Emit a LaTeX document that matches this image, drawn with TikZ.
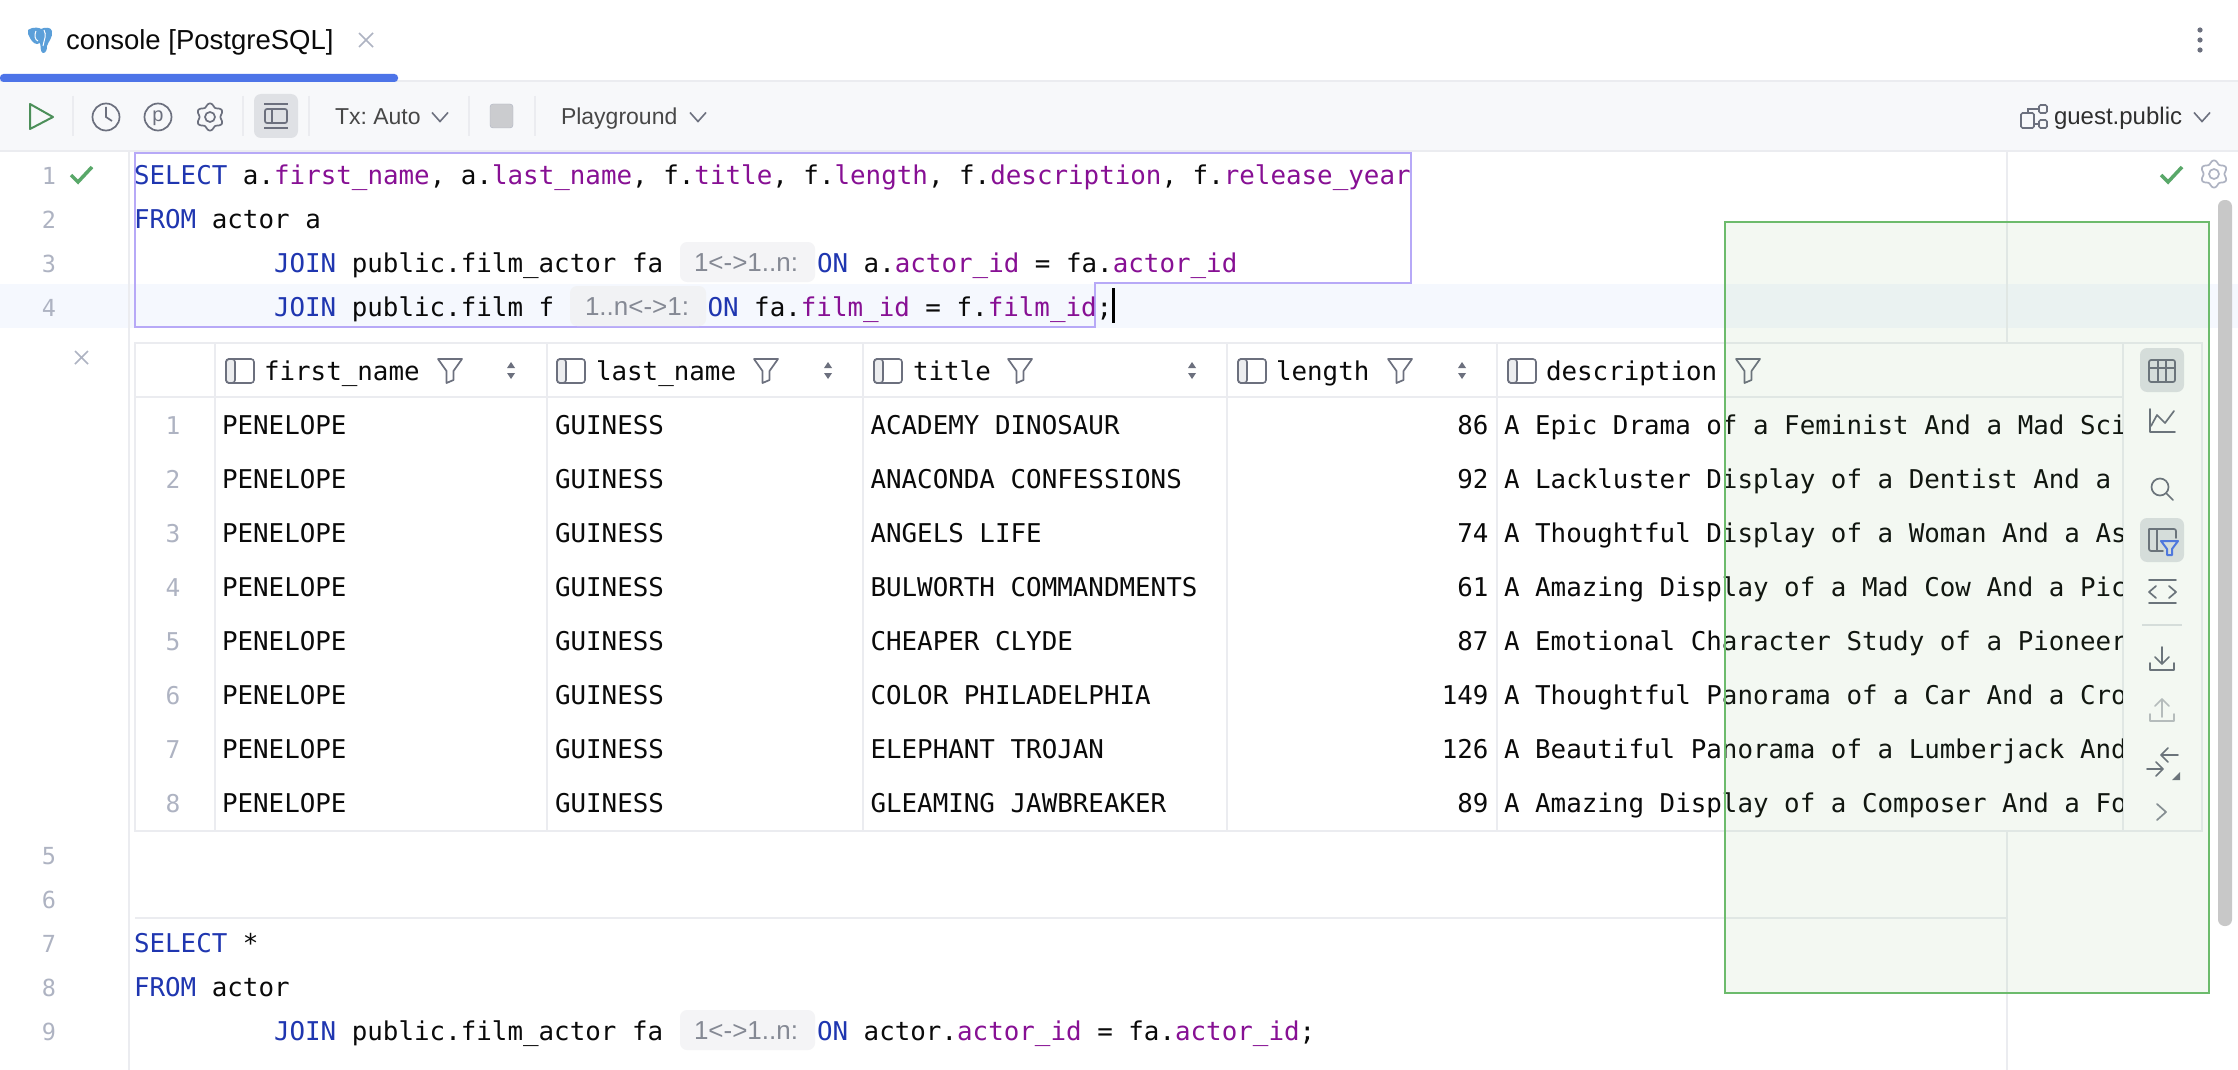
\documentclass[tikz,border=0pt]{standalone}
\usepackage{fontspec}
\setmainfont{Liberation Sans}
\newfontfamily\cmono{DejaVu Sans Mono}
\usetikzlibrary{calc}
\definecolor{kwblue}{HTML}{1F36B0}
\definecolor{fldpurple}{HTML}{871094}
\definecolor{txtblack}{HTML}{0A0A0A}
\definecolor{linegray}{HTML}{EBECF0}
\definecolor{numgray}{HTML}{AEB3C2}
\definecolor{icongray}{HTML}{6C707E}
\definecolor{barbg}{HTML}{F7F8FA}
\definecolor{rowhl}{HTML}{F5F8FE}
\definecolor{okgreen}{HTML}{59A869}
\definecolor{selpurple}{HTML}{B7A9F7}
\definecolor{activebox}{HTML}{DFE1E5}
\definecolor{stopfill}{HTML}{CBCCCF}
\definecolor{hintbg}{HTML}{F4F4F6}
\definecolor{hinttxt}{HTML}{858994}
\definecolor{tabblue}{HTML}{4D74E8}
\definecolor{pgblue}{HTML}{5B9FD9}
\definecolor{ovfill}{HTML}{69AF5F}
\definecolor{ovline}{HTML}{6CBB6C}
\definecolor{sbar}{HTML}{C8C8C8}
\newcommand{\kwd}[1]{\textcolor{kwblue}{#1}}
\newcommand{\fld}[1]{\textcolor{fldpurple}{#1}}
\newcommand{\gearicon}[3]{\draw[#3] plot[domain=0:360,samples=73,smooth] ({#1+(12+1.6*cos(6*\x))*cos(\x+90)},{#2+(12+1.6*cos(6*\x))*sin(\x+90)}) -- cycle; \draw[#3] (#1,#2) circle[radius=5];}
\newcommand{\panelicon}[2]{\draw[icongray,line width=1.6pt,fill=activebox!60!white,rounded corners=3pt] (#1,#2) rectangle ++(9,24); \draw[icongray,line width=1.6pt,rounded corners=3pt] (#1,#2) rectangle ++(28,24);}
\newcommand{\filtericon}[2]{\draw[icongray,line width=1.7pt,line join=round] (#1-12,#2) -- (#1+12,#2) -- (#1+3.5,#2+12) -- (#1+3.5,#2+21) -- (#1-3.5,#2+24) -- (#1-3.5,#2+12) -- cycle;}
\newcommand{\sorticon}[1]{\fill[icongray] (#1-4,368) -- (#1+4,368) -- (#1,362) -- cycle; \fill[icongray] (#1-4,373) -- (#1+4,373) -- (#1,379) -- cycle;}
\newcommand{\chevdown}[2]{\draw[icongray,line width=1.6pt] (#1-8,#2-4.5) -- (#1,#2+4.5) -- (#1+8,#2-4.5);}
\tikzset{
  code/.style={anchor=base west,inner sep=0,outer sep=0,text=txtblack,font=\cmono\fontsize{25.86}{30}\selectfont\frenchspacing},
  lnum/.style={anchor=base,inner sep=0,outer sep=0,text=numgray,font=\cmono\fontsize{23.5}{28}\selectfont},
  ui/.style={anchor=base west,inner sep=0,outer sep=0,text=#1,font=\fontsize{23}{28}\selectfont\frenchspacing},
  ui/.default=txtblack,
  hintbox/.style={fill=hintbg,rounded corners=7pt,draw=none},
  hint/.style={anchor=base west,inner sep=0,outer sep=0,text=hinttxt,font=\fontsize{26}{28}\selectfont},
  sep/.style={linegray,line width=2pt},
  tgl/.style={icongray,line width=1.7pt,line cap=round,line join=round},
}
\begin{document}
\begin{tikzpicture}[x=1pt,y=-1pt]
\useasboundingbox (0,0) rectangle (2238,1070);
\fill[white] (0,0) rectangle (2238,1070);
% tab bar
\fill[barbg] (0,81) rectangle (2238,151);
\draw[sep] (0,81) -- (2238,81);
\draw[sep] (0,151) -- (2238,151);
\fill[tabblue,rounded corners=3.5pt] (0,74) rectangle (398,82);
% elephant
\fill[pgblue] (28,30) .. controls (34,26) and (40,28) .. (41,29) .. controls (45,27) and (51,27) .. (52,31) .. controls (53,38) and (48,42) .. (47,46) .. controls (47,50) and (46,53) .. (43,53) .. controls (40,52) and (41,46) .. (40,43) .. controls (36,46) and (32,42) .. (30,38) .. controls (29,36) and (27,33) .. (28,30) -- cycle;
\draw[white,line width=1pt] (36,31) .. controls (34,35) and (35,40) .. (38,41);
\draw[white,line width=1pt] (44,30) .. controls (47,35) and (44,40) .. (43,46);
\node[ui,font=\fontsize{27.5}{30}\selectfont] (tabtitle) at (66,50) {console [PostgreSQL]};
\draw[numgray,line width=1.6pt] (359,33) -- (373,47) (373,33) -- (359,47);
\foreach \yy in {30,40,50} \fill[icongray] (2200,\yy) circle[radius=2.6];
% toolbar
\draw[okgreen!85!black,line width=2pt,line join=round] (30,104) -- (53,117) -- (30,129) -- cycle;
\foreach \xx in {73,243,309,469,535} \draw[sep] (\xx,96) -- (\xx,136);
\draw[icongray,line width=1.7pt] (106,117) circle[radius=13.5];
\draw[icongray,line width=1.7pt] (106,107) -- (106,117) -- (112,121);
\draw[icongray,line width=1.7pt] (158,117) circle[radius=13.5];
\node[anchor=center,inner sep=0,text=icongray,font=\fontsize{20}{22}\selectfont] (picon) at (158,118) {p};
\gearicon{210}{117}{icongray,line width=1.7pt}
\fill[activebox,rounded corners=7pt] (254,94) rectangle (298,138);
\draw[icongray,line width=1.7pt] (264,104) -- (288,104) (264,128) -- (288,128);
\draw[icongray,line width=1.7pt,rounded corners=2pt] (265,109) rectangle (287,123);
\draw[icongray,line width=1.7pt] (272,109) -- (272,123);
\node[ui=txtblack!75] (tx) at (335,125) {Tx: Auto};
\chevdown{440}{117}
\fill[fill=stopfill,rounded corners=3pt,draw=numgray] (490,104) rectangle (513,128);
\node[ui=txtblack!75] (playground) at (561,125) {Playground};
\chevdown{698}{117}
\draw[icongray,line width=1.7pt,rounded corners=1.5pt] (2021,113) rectangle (2034,128);
\draw[icongray,line width=1.7pt,rounded corners=1.5pt] (2039,105) rectangle (2047,113);
\draw[icongray,line width=1.7pt,rounded corners=1.5pt] (2039,120) rectangle (2047,128);
\draw[icongray,line width=1.7pt] (2028,113) -- (2028,109) -- (2039,109) (2034,124) -- (2039,124);
\node[ui=txtblack!85,font=\fontsize{24}{28}\selectfont] (schema) at (2054,125) {guest.public};
\chevdown{2202}{117}
% editor background
\fill[rowhl] (0,284) rectangle (2238,328);
\draw[sep] (129,152) -- (129,1070);
\draw[sep] (2007,152) -- (2007,343);
\draw[sep] (2007,831) -- (2007,1070);
\draw[sep] (135,918) -- (2007,918);
% status
\draw[okgreen,line width=3.5pt] (71,175) -- (78,182) -- (92,167);
\draw[okgreen,line width=3.5pt] (2161,175) -- (2168,182) -- (2182,167);
\gearicon{2214}{174}{numgray,line width=1.7pt}
\fill[sbar,rounded corners=6.5pt] (2218,200) rectangle (2232,926);
% selection
\draw[selpurple,line width=2.2pt] (135,153) -- (1411,153) -- (1411,283) -- (1095,283) -- (1095,327) -- (135,327) -- cycle;
% gutter numbers
\foreach \n/\yb in {1/184,2/228,3/272,4/316,5/864,6/908,7/952,8/996,9/1040}
  \node[lnum] (ln\n) at (49,\yb) {\n};
% hints
\fill[hintbox] (680,242) rectangle (815,282);
\fill[hintbox,fill=linegray!70!white] (570,286) rectangle (706,326);
\fill[hintbox] (680,1010) rectangle (815,1050);
\node[hint] (h1) at (694,271) {1<->1..n:};
\node[hint] (h2) at (585,315) {1..n<->1:};
\node[hint] (h3) at (694,1039) {1<->1..n:};
% code
\node[code] (c1) at (134,184) {\kwd{SELECT} a.\fld{first\_name}, a.\fld{last\_name}, f.\fld{title}, f.\fld{length}, f.\fld{description}, f.\fld{release\_year}};
\node[code] (c2) at (134,228) {\kwd{FROM} actor a};
\node[code] (c3) at (274,272) {\kwd{JOIN} public.film\_actor fa};
\node[code] (c3b) at (817,272) {\kwd{ON} a.\fld{actor\_id} = fa.\fld{actor\_id}};
\node[code] (c4) at (274,316) {\kwd{JOIN} public.film f};
\node[code] (c4b) at (707.5,316) {\kwd{ON} fa.\fld{film\_id} = f.\fld{film\_id};};
\draw[black,line width=3pt] (1113,288) -- (1113,323);
\node[code] (c7) at (134,952) {\kwd{SELECT} *};
\node[code] (c8) at (134,996) {\kwd{FROM} actor};
\node[code] (c9) at (274,1040) {\kwd{JOIN} public.film\_actor fa};
\node[code] (c9b) at (817,1040) {\kwd{ON} actor.\fld{actor\_id} = fa.\fld{actor\_id};};
% result close
\draw[numgray,line width=1.6pt] (75,351) -- (88,364) (88,351) -- (75,364);
% table
\draw[sep,line width=2.2pt] (135,343) rectangle (2202,831);
\draw[sep,line width=2.2pt] (135,397) -- (2123,397);
\foreach \xx in {215,547,863,1227,1497} \draw[sep] (\xx,343) -- (\xx,831);
\draw[sep] (2123,343) -- (2123,831);
% header
\panelicon{226}{359}
\panelicon{557}{359}
\panelicon{874}{359}
\panelicon{1238}{359}
\panelicon{1508}{359}
\node[code] (hd1) at (264,380) {first\_name};
\node[code] (hd2) at (596,380) {last\_name};
\node[code] (hd3) at (913,380) {title};
\node[code] (hd4) at (1276,380) {length};
\node[code] (hd5) at (1546,380) {description};
\filtericon{450}{359}
\filtericon{766}{359}
\filtericon{1020}{359}
\filtericon{1400}{359}
\filtericon{1748}{359}
\sorticon{511}
\sorticon{828}
\sorticon{1192}
\sorticon{1462}
% rows
\foreach \i/\ttl/\len in {1/ACADEMY DINOSAUR/86,2/ANACONDA CONFESSIONS/92,3/ANGELS LIFE/74,4/BULWORTH COMMANDMENTS/61,5/CHEAPER CLYDE/87,6/COLOR PHILADELPHIA/149,7/ELEPHANT TROJAN/126,8/GLEAMING JAWBREAKER/89}{
  \node[lnum,font=\cmono\fontsize{24.5}{28}\selectfont] (rn\i) at (173,{434+(\i-1)*54}) {\i};
  \node[code] (fn\i) at (222,{434+(\i-1)*54}) {PENELOPE};
  \node[code] (ln\i x) at (555,{434+(\i-1)*54}) {GUINESS};
  \node[code] (tt\i) at (870.5,{434+(\i-1)*54}) {\ttl};
  \node[code,anchor=base east] (le\i) at (1488.5,{434+(\i-1)*54}) {\len};
}
\begin{scope}
\clip (1498,398) rectangle (2122,830);
\foreach \i/\dsc in {1/A Epic Drama of a Feminist And a Mad Sci,2/A Lackluster Display of a Dentist And a,3/A Thoughtful Display of a Woman And a As,4/A Amazing Display of a Mad Cow And a Pic,5/A Emotional Character Study of a Pioneer,6/A Thoughtful Panorama of a Car And a Cro,7/A Beautiful Panorama of a Lumberjack And,8/A Amazing Display of a Composer And a Fo}
  \node[code] (ds\i) at (1504,{434+(\i-1)*54}) {\dsc};
\end{scope}
% side toolbar
\fill[activebox,rounded corners=7pt] (2140,348) rectangle (2184,392);
\draw[tgl,rounded corners=2pt] (2149,360) rectangle (2175,382);
\draw[tgl] (2149,368) -- (2175,368) (2158,360) -- (2158,382) (2166,360) -- (2166,382);
% chart
\draw[tgl] (2150,409) -- (2150,432) -- (2175,432);
\draw[tgl] (2151,426) -- (2157,415) -- (2165,423) -- (2174,411);
% search
\draw[tgl] (2160,487) circle[radius=8.5];
\draw[tgl] (2166,493) -- (2173,500);
% filter panel
\fill[activebox,rounded corners=7pt] (2140,518) rectangle (2184,562);
\draw[tgl,rounded corners=2pt] (2149,529) -- (2149,551) -- (2163,551) (2149,529) -- (2176,529) -- (2176,538);
\draw[tgl] (2157,529) -- (2157,551);
\draw[tabblue,line width=2pt,line join=round] (2161,541) -- (2178,541) -- (2172,549) -- (2172,555) -- (2167,555) -- (2167,549) -- cycle;
% code brackets
\draw[tgl] (2149,580) -- (2176,580) (2149,603) -- (2176,603);
\draw[tgl] (2156,586) -- (2149,592) -- (2156,598) (2169,586) -- (2176,592) -- (2169,598);
\draw[sep,line width=2pt,activebox] (2142,625) -- (2182,625);
% download
\draw[tgl] (2162,647) -- (2162,664) (2155,657) -- (2162,664) -- (2169,657);
\draw[tgl] (2150,663) -- (2150,670) -- (2174,670) -- (2174,663);
% upload
\begin{scope}[opacity=.45]
\draw[tgl] (2162,717) -- (2162,699) (2155,706) -- (2162,699) -- (2169,706);
\draw[tgl] (2150,714) -- (2150,721) -- (2174,721) -- (2174,714);
\end{scope}
% compare arrows
\draw[tgl] (2178,755) -- (2161,755) (2168,748) -- (2161,755) -- (2168,762);
\draw[tgl] (2147,769) -- (2163,769) (2156,762) -- (2163,769) -- (2156,776);
\fill[icongray] (2180,772) -- (2180,780) -- (2172,780) -- cycle;
% chevron right
\draw[tgl,icongray!80] (2157,804) -- (2166,812) -- (2157,820);
% overlay
\fill[ovfill,fill opacity=.08] (1725,222) rectangle (2209,993);
\draw[ovline,line width=2.6pt] (1725,222) rectangle (2209,993);
\end{tikzpicture}
\end{document}
